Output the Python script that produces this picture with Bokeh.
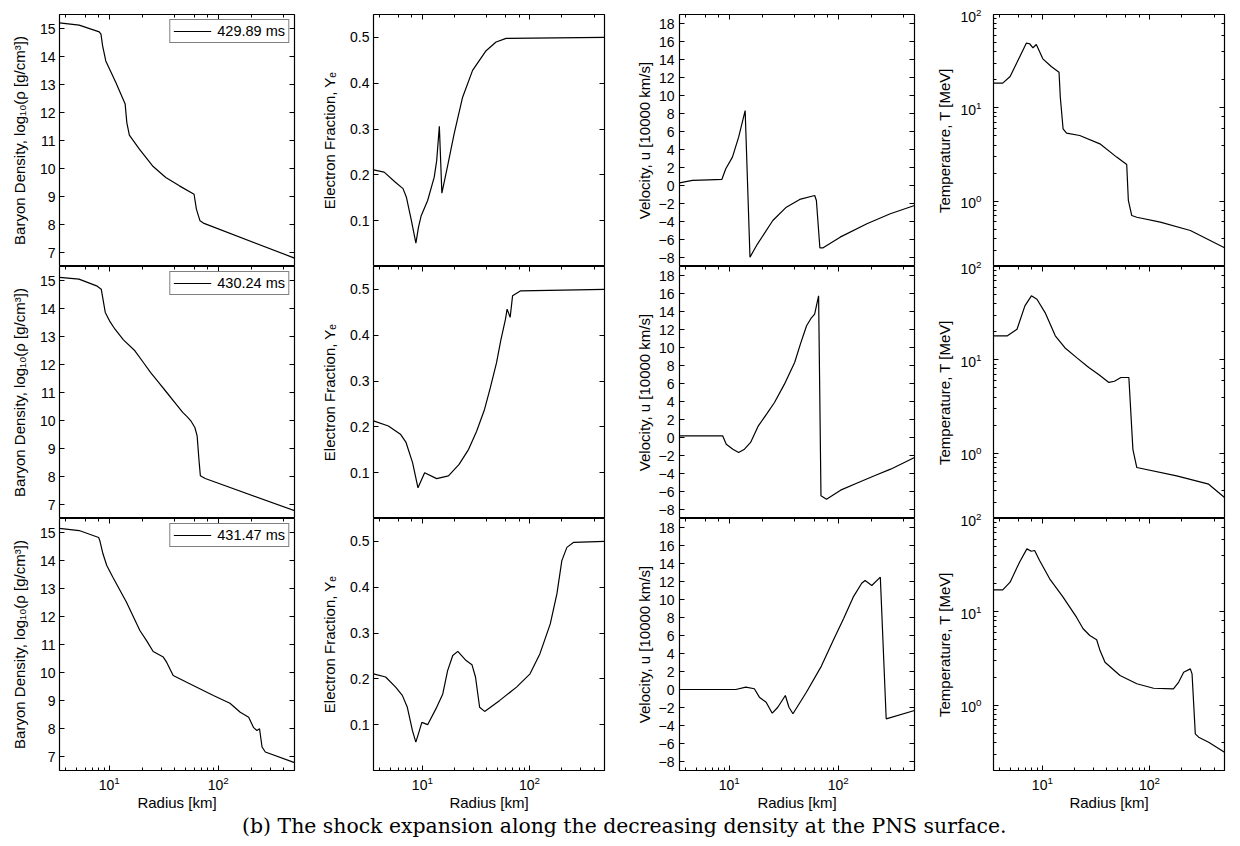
from bokeh.embed import file_html
from bokeh.layouts import column, row
from bokeh.models import CustomJSTickFormatter, FixedTicker, Label, LinearAxis, LogAxis, Range1d
from bokeh.plotting import figure
from bokeh.resources import INLINE

# values, radius in km
times = ["429.89 ms", "430.24 ms", "431.47 ms"]

# --- t = 429.89 ms ---
rho_r1 = [3.5, 5.3, 8.1, 8.4, 8.7, 9.3, 11.5, 14.0, 14.5, 15.3, 18.9, 25, 33, 44, 60, 63, 68, 73, 500]
rho_v1 = [15.2, 15.12, 14.88, 14.8, 14.38, 13.84, 13.07, 12.3, 11.64, 11.19, 10.69, 10.09, 9.68,
          9.38, 9.08, 8.55, 8.13, 8.05, 6.8]
ye_r1 = [3.5, 4.4, 5.6, 6.6, 7.1, 7.9, 8.7, 9.2, 9.75, 11.2, 12.9, 13.6, 14.4, 15.2, 17.1, 19.8,
         23.7, 29.4, 39.3, 48.7, 60.5, 500]
ye_v1 = [0.211, 0.206, 0.184, 0.170, 0.151, 0.10, 0.051, 0.086, 0.111, 0.144, 0.195, 0.231, 0.306,
         0.16, 0.217, 0.29, 0.369, 0.428, 0.471, 0.49, 0.498, 0.5]
vel_r1 = [3.5, 4.6, 6.5, 8.55, 9.3, 10.7, 12.2, 14.0, 15.5, 18.2, 25.1, 33.4, 44.3, 60.8, 63, 67.8,
          72.6, 104, 183, 300, 500]
vel_v1 = [0.3, 0.56, 0.63, 0.67, 1.86, 3.15, 5.37, 8.33, -7.96, -6.48, -3.89, -2.41, -1.55, -1.11,
          -1.67, -6.92, -6.92, -5.74, -4.25, -3.14, -2.22]
tem_r1 = [3.5, 4.27, 5.0, 6.12, 7.08, 7.6, 8.17, 8.78, 10.1, 12.1, 14.3, 14.7, 15.6, 16.8, 22.3,
          34.4, 49.3, 61.2, 63.4, 68.2, 76, 126, 240, 320, 500]
tem_v1 = [18.4, 18.4, 21.7, 34.9, 49.3, 48.6, 44, 47.7, 33.5, 27.7, 24.1, 13, 5.97, 5.36, 5.06,
          4.12, 2.97, 2.47, 1.02, 0.703, 0.674, 0.597, 0.486, 0.412, 0.317]

# --- t = 430.24 ms ---
rho_r2 = [3.5, 5.28, 7.66, 8.45, 9.2, 10.2, 11.3, 13.5, 17.2, 20.5, 24, 28.5, 33.7, 40, 47.2, 52,
          56, 61, 64, 66.5, 68.5, 75.9, 500]
rho_v2 = [15.11, 15.05, 14.81, 14.69, 13.86, 13.52, 13.26, 12.88, 12.49, 12.08, 11.71, 11.35, 11.0,
          10.64, 10.29, 10.13, 9.99, 9.75, 9.45, 8.6, 8.03, 7.93, 6.78]
ye_r2 = [3.5, 4.82, 6.24, 7.04, 8.1, 9.1, 10.5, 13.6, 17.5, 22, 27, 32, 38, 43, 49.2, 54, 59.6, 61.7,
         65.9, 69.4, 82.6, 500]
ye_v2 = [0.213, 0.202, 0.184, 0.166, 0.122, 0.067, 0.10, 0.087, 0.093, 0.118, 0.151, 0.19, 0.238,
         0.285, 0.34, 0.39, 0.435, 0.457, 0.439, 0.486, 0.497, 0.5]
vel_r2 = [3.5, 8.7, 9.4, 10.8, 12.2, 13.8, 15.7, 18.5, 22, 26, 32, 39.8, 45, 51.2, 56, 60.7, 66, 69.4,
          78, 105, 153, 220, 302, 500]
vel_v2 = [0.19, 0.19, -0.74, -1.3, -1.67, -1.3, -0.55, 1.3, 2.6, 3.89, 5.9, 8.33, 10.4, 12.41,
          13.2, 13.7, 15.74, -6.48, -6.85, -5.85, -5.0, -4.2, -3.52, -2.22]
tem_r2 = [3.5, 4.72, 5.8, 6.87, 7.9, 8.9, 10.6, 13.2, 16.2, 21, 27.1, 34, 41.7, 47, 54, 64.1, 69.9,
          76, 179, 356, 500]
tem_v2 = [18.1, 18.1, 21.3, 37.9, 48.5, 44.6, 32.1, 18.1, 13.5, 10.5, 8.28, 6.9, 5.73, 5.9, 6.47,
          6.47, 1.1, 0.703, 0.573, 0.466, 0.336]

# --- t = 431.47 ms ---
rho_r3 = [3.5, 5.3, 8.0, 8.2, 8.76, 9.5, 10.8, 14.4, 19.1, 22, 25.3, 31.3, 33.6, 38.6, 51.3, 90.2,
          128, 159, 190, 211, 226, 239, 252, 270, 500]
rho_v3 = [15.15, 15.07, 14.82, 14.71, 14.24, 13.82, 13.4, 12.51, 11.5, 11.14, 10.75, 10.55, 10.37,
          9.89, 9.65, 9.18, 8.9, 8.58, 8.4, 8.03, 7.93, 7.99, 7.34, 7.16, 6.78]
ye_r3 = [3.5, 4.54, 5.63, 6.5, 7.24, 8.08, 8.69, 9.18, 9.89, 11.2, 13.4, 15.5, 17.2, 19.2, 21.4,
         25.6, 29, 31.3, 34.2, 38.1, 52.7, 75.6, 101, 125, 156, 180, 200, 223, 258, 500]
ye_v3 = [0.211, 0.204, 0.182, 0.164, 0.138, 0.087, 0.062, 0.08, 0.105, 0.10, 0.135, 0.167, 0.218,
         0.251, 0.26, 0.24, 0.231, 0.204, 0.138, 0.129, 0.153, 0.182, 0.211, 0.255, 0.32, 0.386,
         0.458, 0.487, 0.498, 0.5]
vel_r3 = [3.5, 11.5, 14.2, 17, 18.9, 20.3, 21.8, 24.8, 27.9, 32.7, 35.3, 38.4, 51, 70, 89.8, 112,
          137, 164, 176, 203, 243, 275, 500]
vel_v3 = [0, 0, 0.26, 0.08, -0.85, -1.14, -1.41, -2.63, -1.97, -0.67, -1.97, -2.7, -0.3, 2.6, 5.44,
          7.9, 10.26, 11.81, 12.11, 11.56, 12.48, -3.26, -2.33]
tem_r3 = [3.5, 4.27, 5.0, 6.12, 7.17, 7.88, 8.47, 9.42, 11.7, 15.6, 20.8, 24, 27.7, 32.1, 34.5,
          38.4, 53, 76, 109, 167, 187, 208, 240, 249, 267, 287, 356, 500]
tem_v3 = [17.2, 17.2, 20.8, 34, 47.3, 44.6, 45.4, 35.5, 22.6, 14.4, 8.77, 6.6, 5.58, 5.03, 3.85,
          2.89, 2.08, 1.7, 1.52, 1.5, 1.77, 2.26, 2.45, 2.17, 0.494, 0.455, 0.402, 0.314]

rows_data = [
    [(rho_r1, rho_v1), (ye_r1, ye_v1), (vel_r1, vel_v1), (tem_r1, tem_v1)],
    [(rho_r2, rho_v2), (ye_r2, ye_v2), (vel_r2, vel_v2), (tem_r2, tem_v2)],
    [(rho_r3, rho_v3), (ye_r3, ye_v3), (vel_r3, vel_v3), (tem_r3, tem_v3)],
]

y_labels = ["Baryon Density, log\u2081\u2080(\u03c1 [g/cm\u00b3])", "Electron Fraction, Y\u2091",
            "Velocity, u [10000 km/s]", "Temperature, T [MeV]"]
y_limits = [(6.5, 15.5), (0.0, 0.55), (-9, 19), (0.2, 100)]
y_ticks = [list(range(7, 16)), [0.1, 0.2, 0.3, 0.4, 0.5], list(range(-8, 19, 2)), None]
x_label = "Radius [km]"
caption = "(b) The shock expansion along the decreasing density at the PNS surface."

FONT = "Liberation Sans"
R_MIN, R_MAX = 3.5, 500
FRAME_H = 252
frame_w = [235, 231, 235, 231]
border_l = [59, 75, 71, 75]
tick_gap = [4, 4, 5, 12]
label_gap = [9, 9, 3, 4]

blank = CustomJSTickFormatter(code="return ''")
minus = CustomJSTickFormatter(code="return tick < 0 ? '\\u2212' + Math.abs(tick) : String(tick);")


def inward(ax, minor=True):
    ax.major_tick_in = 5
    ax.major_tick_out = 0
    ax.minor_tick_in = 3 if minor else 0
    ax.minor_tick_out = 0
    ax.axis_line_color = None
    ax.major_tick_line_color = "black"
    ax.minor_tick_line_color = "black" if minor else None
    ax.major_label_text_color = "black"
    ax.axis_label_text_color = "black"


def panel(i, j, r, v):
    last = i == 2
    log_y = j == 3
    p = figure(
        x_axis_type="log", y_axis_type="log" if log_y else "linear",
        x_range=Range1d(R_MIN, R_MAX), y_range=Range1d(*y_limits[j]),
        frame_width=frame_w[j], frame_height=FRAME_H,
        min_border_left=border_l[j], min_border_right=4,
        min_border_top=14 if i == 0 else 10, min_border_bottom=44 if last else 0,
        x_axis_location="below" if last else None,
        toolbar_location=None, output_backend="svg",
    )
    p.grid.visible = False
    p.outline_line_color = "black"
    p.outline_line_width = 1.2
    if i > 0:
        p.border_fill_color = None

    if j == 0:
        p.line(r, v, line_color="black", line_width=1.2, legend_label=times[i])
        lg = p.legend[0]
        lg.location = "top_right"
        lg.margin = 5
        lg.padding = 3
        lg.spacing = 0
        lg.glyph_width = 38
        lg.glyph_height = 16
        lg.label_height = 16
        lg.label_standoff = 6
        lg.label_text_font = FONT
        lg.label_text_font_size = "14.5px"
        lg.label_text_color = "black"
        lg.border_line_color = "black"
        lg.border_line_width = 1
    else:
        p.line(r, v, line_color="black", line_width=1.2)

    ya = p.left[0]
    if y_ticks[j] is not None:
        ya.ticker = FixedTicker(ticks=y_ticks[j])
    if j == 2:
        ya.formatter = minus
    inward(ya, minor=log_y)
    ya.axis_label = y_labels[j]
    ya.axis_label_text_font = FONT
    ya.axis_label_text_font_size = "15px"
    ya.axis_label_text_font_style = "normal"
    ya.axis_label_standoff = label_gap[j]
    ya.major_label_text_font = FONT
    ya.major_label_text_font_size = "14px"
    ya.major_label_standoff = tick_gap[j]

    if last:
        xa = p.below[0]
        inward(xa)
        xa.axis_label = x_label
        xa.axis_label_text_font = FONT
        xa.axis_label_text_font_size = "15px"
        xa.axis_label_text_font_style = "normal"
        xa.axis_label_standoff = 1
        xa.major_label_text_font = FONT
        xa.major_label_text_font_size = "14px"
        xa.major_label_standoff = 5

    # tick marks on the opposite sides of the box
    ra = LogAxis() if log_y else LinearAxis()
    if y_ticks[j] is not None:
        ra.ticker = FixedTicker(ticks=y_ticks[j])
    ra.formatter = blank
    ra.major_label_standoff = 0
    inward(ra, minor=log_y)
    p.add_layout(ra, "right")

    ta = LogAxis(formatter=blank, major_label_standoff=0, major_label_text_font_size="1px")
    inward(ta)
    p.add_layout(ta, "above")
    return p


grid_rows = []
for i, panels in enumerate(rows_data):
    figs = [panel(i, j, r, v) for j, (r, v) in enumerate(panels)]
    if i == 0:
        grid_rows.append(row(*figs))
    else:
        # the lower rows overlap the row above by their top border
        grid_rows.append(row(*figs, margin=(-10, 0, 0, 0)))

cap = figure(width=1228, height=28, x_range=Range1d(0, 1), y_range=Range1d(0, 1),
             x_axis_location=None, y_axis_location=None, min_border=0,
             toolbar_location=None, output_backend="svg")
cap.grid.visible = False
cap.outline_line_color = None
cap.add_layout(Label(x=0.508, y=0.6, text=caption, text_align="center", text_baseline="middle",
                     text_font="DejaVu Serif", text_font_size="20.4px", text_color="black"))

layout = column(*grid_rows, cap)
open("out.html", "w").write(file_html(layout, INLINE))
